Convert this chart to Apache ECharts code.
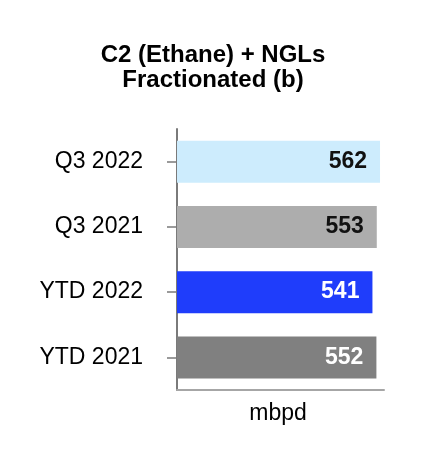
<!DOCTYPE html>
<html>
<head>
<meta charset="utf-8">
<script src="https://cdn.jsdelivr.net/npm/echarts@6/dist/echarts.min.js"></script>
<style>html,body{margin:0;padding:0;background:#fff}#c{width:426px;height:468px}</style>
</head>
<body>
<div id="c"></div>
<script>
const categories = ['Q3 2022', 'Q3 2021', 'YTD 2022', 'YTD 2021'];
const values = [562, 553, 541, 552];
const barColors = ['#cdecfd', '#adadad', '#1f3dfb', '#808080'];
const labelColors = ['#111111', '#111111', '#ffffff', '#ffffff'];
const titleText = 'C2 (Ethane) + NGLs\nFractionated (b)';
const unitName = 'mbpd';

const font = '"Liberation Sans", Arial, sans-serif';
const chart = echarts.init(document.getElementById('c'), null, {renderer: 'canvas'});
chart.setOption({
  animation: false,
  backgroundColor: '#ffffff',
  title: {
    text: titleText,
    left: 'center',
    top: 38,
    textStyle: {fontFamily: font, fontSize: 24, fontWeight: 'bold', color: '#000', lineHeight: 25}
  },
  grid: {left: 177, right: 42, top: 129, bottom: 78, containLabel: false},
  xAxis: {
    type: 'value',
    min: 0,
    max: 573,
    axisLine: {show: true, lineStyle: {color: '#a6a6a6', width: 2}},
    axisTick: {show: false},
    axisLabel: {show: false},
    splitLine: {show: false},
    name: unitName,
    nameLocation: 'middle',
    nameGap: 12,
    nameTextStyle: {fontFamily: font, fontSize: 23, color: '#000', verticalAlign: 'top', padding: [0, 5, 0, 0]}
  },
  yAxis: {
    type: 'category',
    inverse: true,
    data: categories,
    axisLine: {show: true, lineStyle: {color: '#7a7a7a', width: 2}},
    axisTick: {show: true, length: 10, alignWithLabel: true, lineStyle: {color: '#7a7a7a', width: 1.5}},
    axisLabel: {fontFamily: font, fontSize: 23, color: '#000', margin: 34}
  },
  series: [{
    type: 'bar',
    barWidth: 42,
    data: values.map((v, i) => ({
      value: v,
      itemStyle: {color: barColors[i]},
      label: {color: labelColors[i]}
    })),
    label: {
      show: true,
      position: 'insideRight',
      distance: 13,
      fontFamily: font,
      fontSize: 23,
      fontWeight: 'bold'
    }
  }]
});
</script>
</body>
</html>
